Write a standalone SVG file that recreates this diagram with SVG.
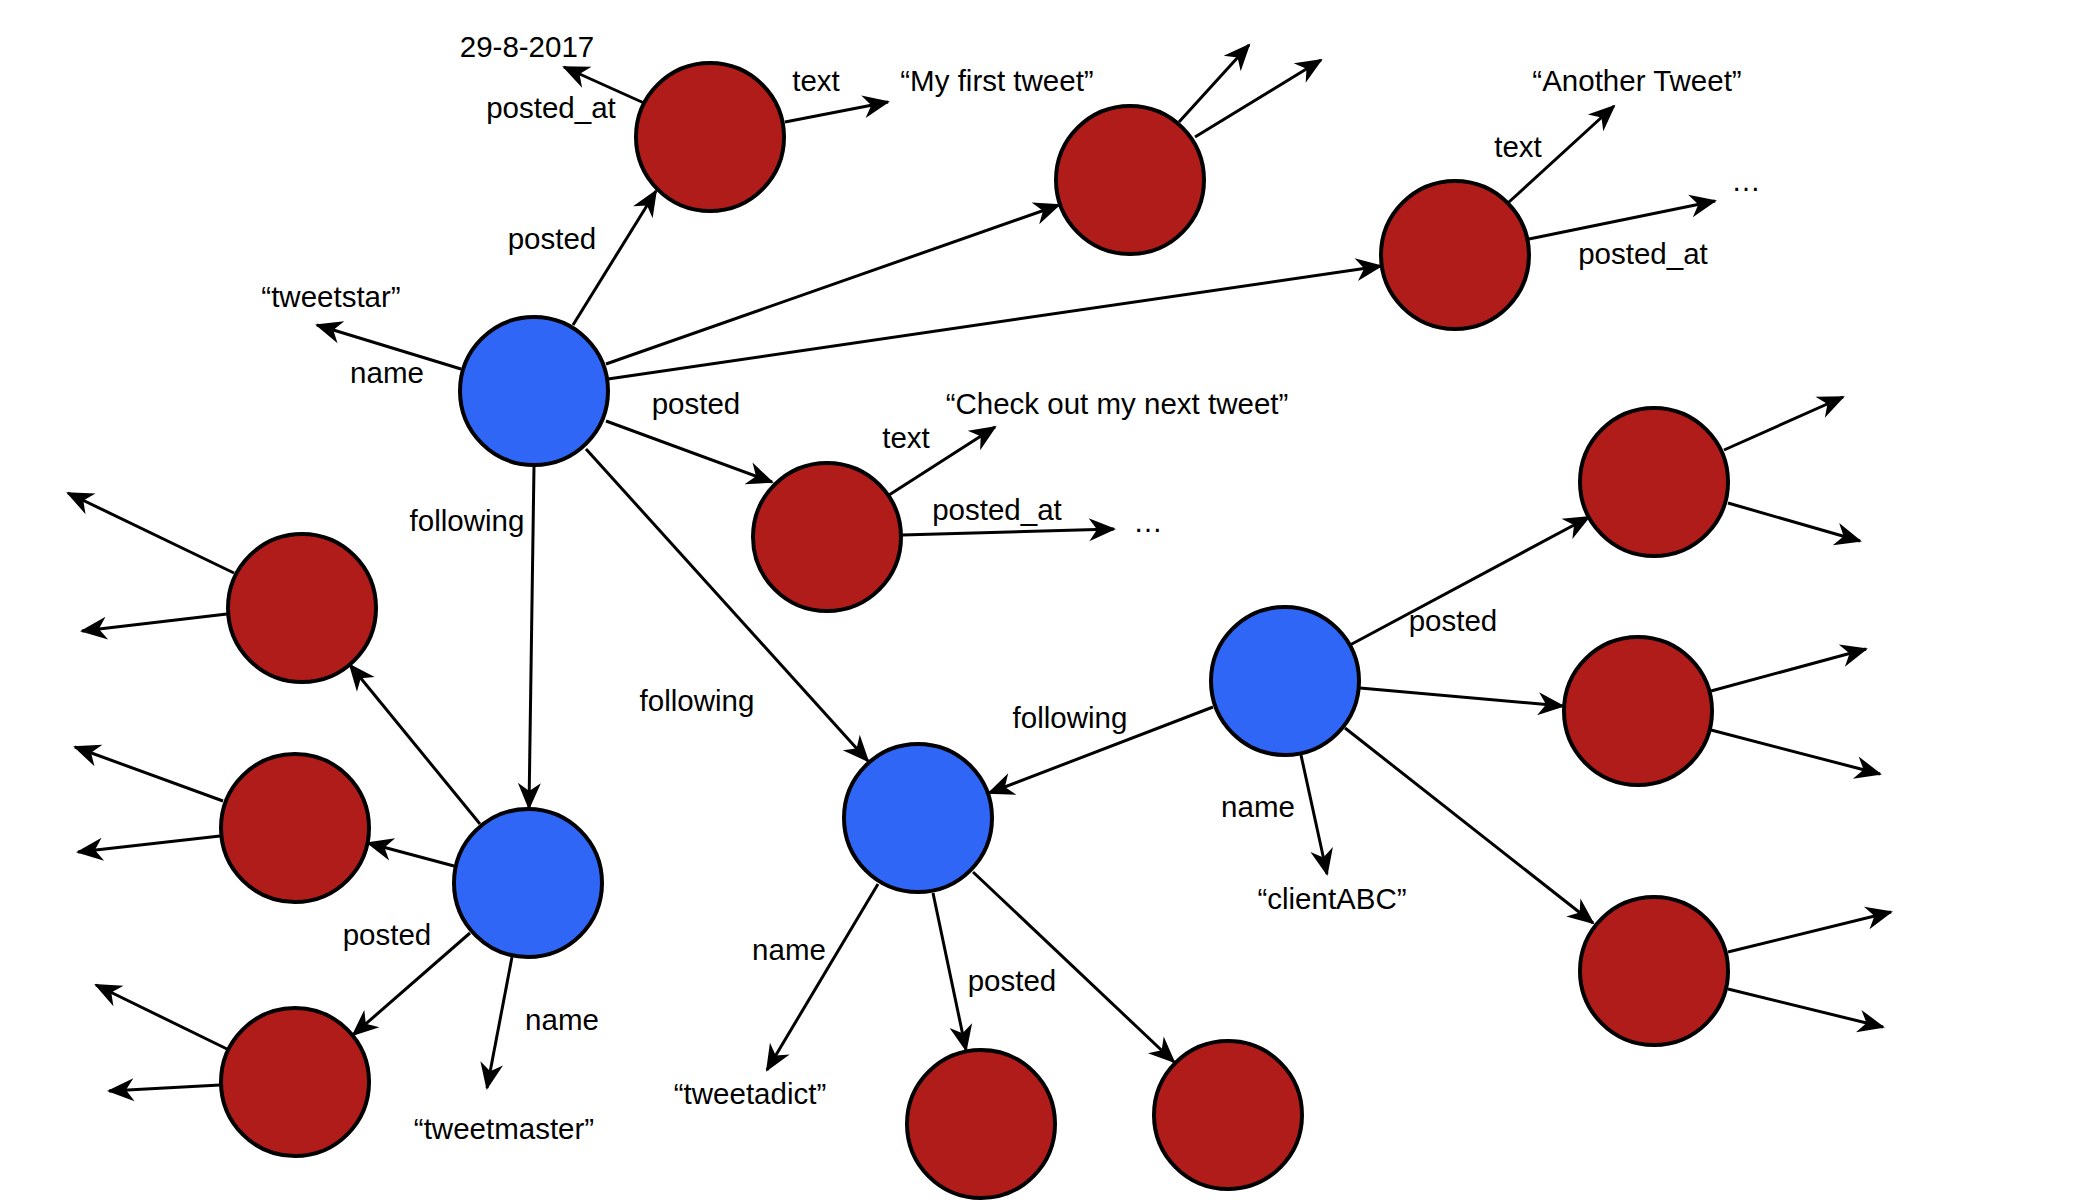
<svg xmlns="http://www.w3.org/2000/svg" width="2088" height="1200" viewBox="0 0 2088 1200">
<style>
.tweet{fill:#B01C19;stroke:#000;stroke-width:4}
.user{fill:#2F66F6;stroke:#000;stroke-width:4}
.edge{stroke:#000;stroke-width:3;fill:none;marker-end:url(#arr)}
text{font-family:"Liberation Sans",Arial,Helvetica,sans-serif;font-size:29.5px;fill:#000;text-anchor:middle}
</style>
<defs>
<marker id="arr" markerUnits="userSpaceOnUse" viewBox="-28 -13 32 26" markerWidth="32" markerHeight="26" refX="0" refY="0" orient="auto">
<path d="M2,0 L-25,-11.5 L-17,0 L-25,11.5 Z" fill="#000"/>
</marker>
</defs>
<rect width="2088" height="1200" fill="#fff"/>
<g id="nodes">
<g id="tweet1"><circle class="tweet" cx="710" cy="137" r="74"/></g>
<g id="tweet2"><circle class="tweet" cx="1130" cy="180" r="74"/></g>
<g id="tweet3"><circle class="tweet" cx="1455" cy="255" r="74"/></g>
<g id="user-tweetstar"><circle class="user" cx="534" cy="391" r="74"/></g>
<g id="tweet4"><circle class="tweet" cx="827" cy="537" r="74"/></g>
<g id="tweet5"><circle class="tweet" cx="1654" cy="482" r="74"/></g>
<g id="user-clientABC"><circle class="user" cx="1285" cy="681" r="74"/></g>
<g id="tweet6"><circle class="tweet" cx="1638" cy="711" r="74"/></g>
<g id="tweet7"><circle class="tweet" cx="1654" cy="971" r="74"/></g>
<g id="user-tweetadict"><circle class="user" cx="918" cy="818" r="74"/></g>
<g id="tweet8"><circle class="tweet" cx="981" cy="1124" r="74"/></g>
<g id="tweet9"><circle class="tweet" cx="1228" cy="1115" r="74"/></g>
<g id="user-tweetmaster"><circle class="user" cx="528" cy="883" r="74"/></g>
<g id="tweet10"><circle class="tweet" cx="302" cy="608" r="74"/></g>
<g id="tweet11"><circle class="tweet" cx="295" cy="828" r="74"/></g>
<g id="tweet12"><circle class="tweet" cx="295" cy="1082" r="74"/></g>
</g>
<g id="connectors">
<line class="edge" x1="644" y1="103" x2="564" y2="67"/>
<line class="edge" x1="785" y1="122" x2="888" y2="102"/>
<line class="edge" x1="573" y1="325" x2="656" y2="191"/>
<line class="edge" x1="461" y1="369" x2="317" y2="325"/>
<line class="edge" x1="606" y1="364" x2="1059" y2="205"/>
<line class="edge" x1="608" y1="379" x2="1381" y2="266"/>
<line class="edge" x1="606" y1="421" x2="772" y2="482"/>
<line class="edge" x1="534" y1="466" x2="529" y2="808"/>
<line class="edge" x1="586" y1="449" x2="868" y2="761"/>
<line class="edge" x1="1179" y1="122" x2="1249" y2="45"/>
<line class="edge" x1="1195" y1="137" x2="1321" y2="60"/>
<line class="edge" x1="1509" y1="202" x2="1614" y2="106"/>
<line class="edge" x1="1529" y1="239" x2="1715" y2="201"/>
<line class="edge" x1="889" y1="495" x2="995" y2="427"/>
<line class="edge" x1="902" y1="535" x2="1114" y2="529"/>
<line class="edge" x1="1724" y1="450" x2="1843" y2="397"/>
<line class="edge" x1="1728" y1="503" x2="1860" y2="541"/>
<line class="edge" x1="1350" y1="645" x2="1589" y2="517"/>
<line class="edge" x1="1360" y1="688" x2="1563" y2="706"/>
<line class="edge" x1="1345" y1="728" x2="1593" y2="923"/>
<line class="edge" x1="1301" y1="755" x2="1327" y2="874"/>
<line class="edge" x1="1213" y1="707" x2="989" y2="793"/>
<line class="edge" x1="1711" y1="691" x2="1866" y2="649"/>
<line class="edge" x1="1711" y1="730" x2="1880" y2="774"/>
<line class="edge" x1="1728" y1="952" x2="1891" y2="912"/>
<line class="edge" x1="1728" y1="989" x2="1883" y2="1027"/>
<line class="edge" x1="878" y1="884" x2="767" y2="1070"/>
<line class="edge" x1="933" y1="893" x2="966" y2="1050"/>
<line class="edge" x1="973" y1="872" x2="1174" y2="1062"/>
<line class="edge" x1="480" y1="824" x2="350" y2="665"/>
<line class="edge" x1="454" y1="866" x2="368" y2="843"/>
<line class="edge" x1="470" y1="933" x2="353" y2="1035"/>
<line class="edge" x1="512" y1="957" x2="487" y2="1088"/>
<line class="edge" x1="234" y1="573" x2="68" y2="493"/>
<line class="edge" x1="227" y1="614" x2="82" y2="631"/>
<line class="edge" x1="223" y1="801" x2="75" y2="747"/>
<line class="edge" x1="220" y1="836" x2="78" y2="852"/>
<line class="edge" x1="227" y1="1049" x2="96" y2="985"/>
<line class="edge" x1="220" y1="1085" x2="109" y2="1091"/>
</g>
<g id="labels">
<text x="527" y="57">29-8-2017</text>
<text x="551" y="118">posted_at</text>
<text x="816" y="91">text</text>
<text x="997" y="91">“My first tweet”</text>
<text x="552" y="249">posted</text>
<text x="331" y="307">“tweetstar”</text>
<text x="387" y="383">name</text>
<text x="1637" y="91">“Another Tweet”</text>
<text x="1518" y="157">text</text>
<text x="1746" y="191">…</text>
<text x="1643" y="264">posted_at</text>
<text x="696" y="414">posted</text>
<text x="1117" y="414">“Check out my next tweet”</text>
<text x="906" y="448">text</text>
<text x="997" y="520">posted_at</text>
<text x="1148" y="532">…</text>
<text x="467" y="531">following</text>
<text x="697" y="711">following</text>
<text x="1070" y="728">following</text>
<text x="1453" y="631">posted</text>
<text x="1258" y="817">name</text>
<text x="1332" y="909">“clientABC”</text>
<text x="789" y="960">name</text>
<text x="750" y="1104">“tweetadict”</text>
<text x="1012" y="991">posted</text>
<text x="387" y="945">posted</text>
<text x="562" y="1030">name</text>
<text x="504" y="1139">“tweetmaster”</text>
</g>
</svg>
